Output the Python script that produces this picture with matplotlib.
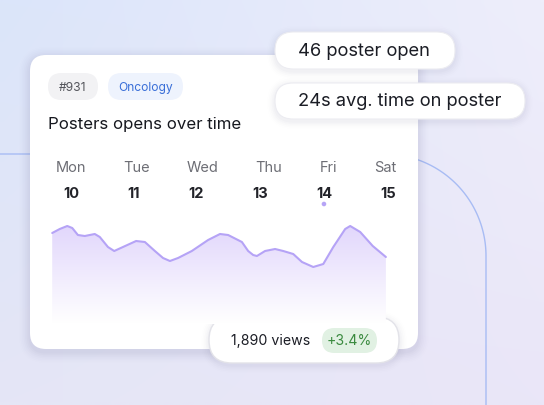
import numpy as np
import matplotlib
matplotlib.use("Agg")
import matplotlib.pyplot as plt
from matplotlib.patches import FancyBboxPatch, Circle, Polygon

plt.rcParams['font.family'] = ['Inter', 'DejaVu Sans']

# ---------------- data ----------------
day_names = ["Mon", "Tue", "Wed", "Thu", "Fri", "Sat"]
day_numbers = ["10", "11", "12", "13", "14", "15"]
selected_day = 4  # Fri 14

# time in days from Monday, poster opens
t_days = [-0.30, -0.18, -0.06, 0.02, 0.11, 0.22, 0.38, 0.46, 0.59, 0.69, 0.83,
          1.04, 1.18, 1.34, 1.47, 1.58, 1.71, 1.93, 2.19, 2.38, 2.51, 2.73,
          2.83, 2.91, 2.97, 3.10, 3.26, 3.39, 3.55, 3.69, 3.87, 4.03, 4.19,
          4.38, 4.46, 4.62, 4.82, 5.03]
opens = [91, 95, 98, 96, 89, 88, 90, 87, 77, 73, 77, 83, 82, 73, 66, 63, 66,
         73, 84, 90, 89, 82, 73, 69, 68, 73, 75, 73, 70, 62, 57, 60, 77, 95,
         98, 92, 78, 67]

tag_id = "#931"
tag_topic = "Oncology"
title = "Posters opens over time"
stat_opens = "46 poster open"
stat_time = "24s avg. time on poster"
views_text = "1,890 views"
change_text = "+3.4%"

# ---------------- figure ----------------
W, H = 544, 406
fig = plt.figure(figsize=(W / 100, H / 100), dpi=100)
ax = fig.add_axes([0, 0, 1, 1])
ax.set_xlim(0, W)
ax.set_ylim(H, 0)
ax.axis("off")

# background gradient
tl = np.array([219, 229, 250]) / 255
tr = np.array([238, 238, 251]) / 255
bl = np.array([229, 230, 246]) / 255
br = np.array([234, 230, 248]) / 255
gy, gx = np.mgrid[0:1:60j, 0:1:80j]
bg = ((1 - gx)[..., None] * (1 - gy)[..., None] * tl + gx[..., None] * (1 - gy)[..., None] * tr
      + (1 - gx)[..., None] * gy[..., None] * bl + gx[..., None] * gy[..., None] * br)
ax.imshow(bg, extent=[0, W, H, 0], aspect="auto", interpolation="bilinear", zorder=0)

# decorative blue track line
R = 102
theta = np.linspace(np.pi / 2, 0, 60)
arc_x = 384 + R * np.cos(theta)
arc_y = 257 - R * np.sin(theta)
lx = np.concatenate([[0], arc_x, [486]])
ly = np.concatenate([[155], arc_y, [H]])
ax.plot(lx, ly, color="#a8bcf4", lw=1.0, zorder=1)


def rbox(x0, y0, x1, y1, r, fc, ec="none", lw=0, z=2, alpha=1.0):
    p = FancyBboxPatch((x0, y0), x1 - x0, y1 - y0,
                       boxstyle=f"round,pad=0,rounding_size={r}",
                       fc=fc, ec=ec, lw=lw, zorder=z, alpha=alpha)
    ax.add_patch(p)
    return p


def shadow(x0, y0, x1, y1, r, z, strength=0.035, n=7, dy=3):
    for i in range(n, 0, -1):
        g = i * 1.6
        rbox(x0 - g, y0 - g + dy, x1 + g, y1 + g + dy, r + g, fc=(0.35, 0.35, 0.5),
             z=z, alpha=strength * (1 - i / (n + 1)))


# card
shadow(30, 56, 418, 350, 16, 2, strength=0.03)
rbox(30, 56, 418, 350, 16, "white", z=3)

# tags
rbox(48, 74, 98, 101, 13.5, "#f2f2f4", z=4)
ax.text(73, 88, tag_id, ha="center", va="center", fontsize=8.7, color="#55565c", zorder=5)
rbox(108, 74, 183, 101, 13.5, "#eef3fd", z=4)
ax.text(145.5, 88, tag_topic, ha="center", va="center", fontsize=8.7, color="#3a6fd8", zorder=5)

ax.text(48, 124, title, ha="left", va="center", fontsize=12.1, color="#16181f", zorder=5)

# chart axes: x in days (Mon=0) -> px 71 + 62.6*d ; y value -> px 325 - v
x0d, x1d = -0.5, 5.5
px0, px1 = 71 + 62.6 * x0d, 71 + 62.6 * x1d
v0, v1 = 0, 110
cax = fig.add_axes([px0 / W, (H - (325 - v0)) / H, (px1 - px0) / W, (v1 - v0) / H])
cax.set_xlim(x0d, x1d)
cax.set_ylim(v0, v1)
cax.axis("off")
cax.set_zorder(3.5)
cax.patch.set_alpha(0)

# gradient fill under the line
t = np.array(t_days)
v = np.array(opens)
top = np.array([225, 214, 252]) / 255
bot = np.array([255, 255, 255]) / 255
gv = np.linspace(0, 1, 100)[:, None]
grad = (gv * top + (1 - gv) * bot)[:, None, :].repeat(2, axis=1)
im = cax.imshow(grad, extent=[t.min(), t.max(), 0, 100], origin="lower",
                aspect="auto", interpolation="bilinear", zorder=1)
poly = Polygon(np.column_stack([np.concatenate([t, [t[-1], t[0]]]),
                                np.concatenate([v, [0, 0]])]),
               closed=True, fc="none", ec="none", transform=cax.transData)
cax.add_patch(poly)
im.set_clip_path(poly)
cax.plot(t, v, color="#b5a3f6", lw=1.5, solid_joinstyle="round",
         solid_capstyle="round", zorder=2)

# day labels, laid out with "space-between" justification
renderer = fig.canvas.get_renderer()


def justify(labels, left, right, y, **kw):
    objs = [ax.text(0, y, s, ha="left", va="center", zorder=5, **kw) for s in labels]
    widths = [o.get_window_extent(renderer).width for o in objs]
    gap = (right - left - sum(widths)) / (len(objs) - 1)
    x = left
    centers = []
    for o, w in zip(objs, widths):
        o.set_x(x)
        centers.append(x + w / 2)
        x += w + gap
    return centers


justify(day_names, 56, 396, 168, fontsize=10.5, color="#6d6e75")
num_centers = justify(day_numbers, 63, 396, 194, fontsize=10.5,
                      fontweight="bold", color="#222329")
ax.add_patch(Circle((num_centers[selected_day], 205), 2.3, fc="#b6a4f6", ec="none", zorder=5))

# stat pills top-right
shadow(275, 33, 455, 70, 18.5, 6, strength=0.03, n=5, dy=2)
rbox(275, 33, 455, 70, 18.5, "white", ec="#ececf1", lw=0.8, z=7)
ax.text(298, 51.5, stat_opens, ha="left", va="center", fontsize=13.2, color="#1b1d25", zorder=8)
shadow(275, 84, 525, 120, 18, 6, strength=0.03, n=5, dy=2)
rbox(275, 84, 525, 120, 18, "white", ec="#ececf1", lw=0.8, z=7)
ax.text(298, 102, stat_time, ha="left", va="center", fontsize=13.2, color="#1b1d25", zorder=8)

# views pill
shadow(209, 318, 399, 364, 23, 6, strength=0.03, n=5, dy=2)
rbox(209, 318, 399, 364, 23, "white", ec="#e3e3e9", lw=1.0, z=7)
ax.text(231, 341.5, views_text, ha="left", va="center", fontsize=10.2, color="#1b1d25", zorder=8)
rbox(322, 329, 377, 354, 12.5, "#e1f1e3", z=8)
ax.text(349.5, 341.5, change_text, ha="center", va="center", fontsize=10.2, color="#3a8a3f", zorder=9)

fig.savefig("out.png", dpi=100)
